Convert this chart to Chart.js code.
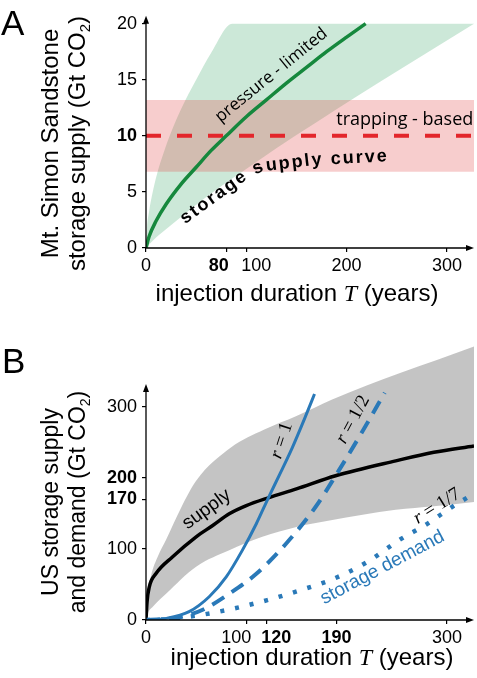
<!DOCTYPE html>
<html>
<head>
<meta charset="utf-8">
<script src="https://cdn.jsdelivr.net/npm/chart.js@4.4.0/dist/chart.umd.min.js"></script>
<style>
  html, body { margin: 0; padding: 0; background: #fff; }
  #wrapA { position: absolute; left: 0; top: 0; width: 477px; height: 310px; }
  #wrapB { position: absolute; left: 0; top: 320px; width: 477px; height: 358px; }
</style>
</head>
<body>
<div id="wrapA"><canvas id="chartA"></canvas></div>
<div id="wrapB"><canvas id="chartB"></canvas></div>
<script>
// ---- Panel A : Mt. Simon Sandstone ----
const xTicksA = [0, 80, 100, 200, 300];
const yTicksA = [0, 5, 10, 15, 20];
const boldTicksA = [80, 10];

// pressure-limited supply curve (years, Gt CO2)
const pressureT = [0, 3, 10, 20, 35, 50, 65, 80, 100, 120, 140, 160, 180, 200, 219];
const pressureS = [0, 1.0, 2.4, 3.9, 5.7, 7.2, 8.7, 10, 11.7, 13.2, 14.7, 16.1, 17.5, 18.8, 20];
// uncertainty band round it
const pressHighT = [0, 1, 3, 6, 11, 18, 24, 35, 50, 65, 86, 327];
const pressHighS = [0, 1.8, 3.2, 4.7, 6.6, 8.6, 10.1, 12.4, 15.0, 17.4, 20, 20];
const pressLowT = [0, 5, 12, 23, 45, 70, 96, 130, 170, 210, 260, 327];
const pressLowS = [0, 0.5, 1.1, 1.9, 3.5, 5.2, 6.8, 8.9, 11.2, 13.5, 16.3, 20];

// trapping-based limit
const trapT = [0, 327];
const trapMid = [10, 10];
const trapHigh = [13.2, 13.2];
const trapLow = [6.8, 6.8];

// ---- Panel B : US supply and demand ----
const xTicksB = [0, 100, 120, 190, 300];
const yTicksB = [0, 100, 170, 200, 300];
const boldTicksB = [120, 190, 170, 200];

const supplyT = [0, 1, 3.3, 10, 26.6, 50, 66.5, 83, 100, 122, 150, 189, 249, 287, 327];
const supplyS = [0, 25, 46.7, 65.4, 89, 117, 133, 149.5, 161, 172, 184.5, 203, 224, 236, 245];
const supHighT = [0, 1, 5, 12, 20, 35, 50, 85, 118, 150, 185, 220, 254, 290, 327];
const supHighS = [0, 30, 62, 90, 113, 158, 196, 243, 268, 287, 310, 330, 348, 366, 385];
const supLowT = [0, 2, 7, 20, 50, 83, 116, 150, 183, 216, 249, 287, 327];
const supLowS = [0, 10, 19, 37, 75, 98, 117, 131, 140, 148, 155, 160, 166];

// storage demand for r = 1, 1/2, 1/7
const demand1T = [0, 20, 43, 63, 80, 96, 110, 122, 134, 146, 158, 168];
const demand1S = [0, 2.3, 11.7, 32.7, 60.7, 98, 135.5, 172, 207, 243, 283, 318];
const demand2T = [0, 33, 56, 83, 110, 140, 169, 189, 216, 238];
const demand2S = [0, 3.7, 14, 37, 65, 108, 159, 203, 266, 320];
const demand7T = [0, 20, 54, 87, 121, 154, 187, 221, 253, 280, 306, 320];
const demand7S = [0, 1, 7, 16, 28, 42, 58, 82, 113, 135, 160, 172];

// baseline of the bent "storage supply curve" label, in data units
const curveLabelT = [38.9, 102.7, 115.6, 171.5, 247.3];
const curveLabelS = [2.11, 6.23, 6.84, 7.41, 7.76];

const SANS = '"Liberation Sans", Arial, Helvetica, sans-serif';
const SERIF = '"Liberation Serif", "Times New Roman", serif';
const HUMAN = '"Open Sans", sans-serif';

const GREEN = '#16883d';
const RED = '#e3262b';
const BLUE = '#2a79b8';

function pts(xs, ys) {
  return xs.map((x, i) => ({ x: x, y: ys[i] }));
}

// tick labels that sit too close are nudged with non-breaking spaces
function nudge(shifts) {
  return v => {
    const n = shifts[v] || 0;
    const pad = '\u00a0'.repeat(Math.abs(n));
    return n < 0 ? v + pad : pad + v;
  };
}

function tickFont(bold) {
  return c => ({ family: SANS, size: 18, weight: (c.tick && bold.includes(c.tick.value)) ? 'bold' : 'normal' });
}

// draws a run of differently styled pieces, centred (or left aligned) on x,y
function drawRich(ctx, parts, x, y, angle, align, baseline) {
  ctx.save();
  ctx.translate(x, y);
  ctx.rotate(angle * Math.PI / 180);
  ctx.textAlign = 'left';
  ctx.textBaseline = baseline || 'alphabetic';
  let total = 0;
  parts.forEach(p => { ctx.font = p.f; p.w = ctx.measureText(p.t).width; total += p.w; });
  let cx = align === 'left' ? 0 : -total / 2;
  parts.forEach(p => {
    ctx.font = p.f;
    ctx.fillText(p.t, cx, p.dy || 0);
    cx += p.w;
  });
  ctx.restore();
}

// text laid along a polyline, each letter turned to the local direction
function textOnPath(ctx, text, P, font, spacing) {
  const L = [0];
  for (let i = 1; i < P.length; i++) L.push(L[i - 1] + Math.hypot(P[i][0] - P[i - 1][0], P[i][1] - P[i - 1][1]));
  const at = s => {
    let i = 1;
    while (i < P.length - 1 && L[i] < s) i++;
    const f = (s - L[i - 1]) / (L[i] - L[i - 1]);
    return [P[i - 1][0] + f * (P[i][0] - P[i - 1][0]), P[i - 1][1] + f * (P[i][1] - P[i - 1][1])];
  };
  ctx.save();
  ctx.font = font;
  ctx.textAlign = 'center';
  ctx.textBaseline = 'alphabetic';
  let s = 0;
  for (const ch of text) {
    const w = ctx.measureText(ch).width;
    const a = at(s), b = at(s + w), m = at(s + w / 2);
    ctx.save();
    ctx.translate(m[0], m[1]);
    ctx.rotate(Math.atan2(b[1] - a[1], b[0] - a[0]));
    ctx.fillText(ch, 0, 0);
    ctx.restore();
    s += w + spacing;
  }
  ctx.restore();
}

function drawAxes(chart, yTopValue) {
  const { ctx, chartArea: a, scales: { x, y } } = chart;
  const x0 = x.getPixelForValue(0), y0 = y.getPixelForValue(0);
  const yTop = y.getPixelForValue(yTopValue);
  ctx.save();
  ctx.strokeStyle = '#000';
  ctx.fillStyle = '#000';
  ctx.lineWidth = 1.3;
  ctx.beginPath();
  ctx.moveTo(x0, y0); ctx.lineTo(x0, yTop + 5);
  ctx.moveTo(x0, y0); ctx.lineTo(a.right - 5, y0);
  ctx.stroke();
  ctx.beginPath();
  ctx.moveTo(x0, yTop); ctx.lineTo(x0 - 3, yTop + 8); ctx.lineTo(x0 + 3, yTop + 8);
  ctx.closePath(); ctx.fill();
  ctx.beginPath();
  ctx.moveTo(a.right, y0); ctx.lineTo(a.right - 8, y0 - 3); ctx.lineTo(a.right - 8, y0 + 3);
  ctx.closePath(); ctx.fill();
  ctx.restore();
}

function xTitle(ctx, cx, baseY) {
  drawRich(ctx, [
    { t: 'injection duration ', f: '24px ' + SANS },
    { t: 'T', f: 'italic 24px ' + SERIF },
    { t: ' (years)', f: '24px ' + SANS }
  ], cx, baseY, 0);
}

function yTitle(ctx, line1, line2, x1, x2, cy, size) {
  drawRich(ctx, [{ t: line1, f: size + 'px ' + SANS }], x1, cy, -90);
  drawRich(ctx, [
    { t: line2, f: size + 'px ' + SANS },
    { t: '2', f: Math.round(size * 0.63) + 'px ' + SANS, dy: 5 },
    { t: ')', f: size + 'px ' + SANS }
  ], x2, cy, -90);
}

function lineSet(data, color, width, dash, order) {
  return {
    data: data, borderColor: color, borderWidth: width, borderDash: dash || [],
    pointRadius: 0, fill: false, cubicInterpolationMode: 'monotone', order: order
  };
}

function bandSet(data, color, order, fill) {
  return {
    data: data, borderWidth: 0, borderColor: 'rgba(0,0,0,0)', backgroundColor: color,
    pointRadius: 0, fill: fill, cubicInterpolationMode: 'monotone', order: order
  };
}

function axisOpts(ticksList, bold, shifts, pad, afterFit, min, max) {
  return {
    type: 'linear', min: min, max: max,
    afterBuildTicks: s => { s.ticks = ticksList.map(v => ({ value: v })); },
    afterFit: afterFit,
    ticks: { autoSkip: false, maxRotation: 0, padding: pad, color: '#000', font: tickFont(bold), callback: nudge(shifts) },
    grid: { display: true, drawOnChartArea: false, drawTicks: true, tickLength: 4, color: '#000', lineWidth: 1.2 },
    border: { display: false }
  };
}

// ---- chart A ----
const annotA = {
  id: 'annotA',
  afterDraw(chart) {
    const { ctx, scales: { x, y } } = chart;
    drawAxes(chart, 20.7);
    ctx.save();
    ctx.fillStyle = '#000';
    drawRich(ctx, [{ t: 'A', f: '35px ' + SANS }], 1, 35, 0, 'left');
    xTitle(ctx, 297, 301);
    yTitle(ctx, 'Mt. Simon Sandstone', 'storage supply (Gt CO', 58, 85, 143.5, 24);
    drawRich(ctx, [{ t: 'pressure - limited', f: '17px ' + HUMAN }], x.getPixelForValue(125), y.getPixelForValue(15.4), -39, 'center', 'middle');
    drawRich(ctx, [{ t: 'trapping - based', f: '18px ' + HUMAN }], x.getPixelForValue(258), y.getPixelForValue(11.4), 0, 'center', 'middle');
    const path = curveLabelT.map((t, i) => [x.getPixelForValue(t), y.getPixelForValue(curveLabelS[i])]);
    textOnPath(ctx, 'storage supply curve', path, 'bold 18px ' + SANS, 2);
    ctx.restore();
  }
};

new Chart(document.getElementById('chartA'), {
  type: 'line',
  data: {
    datasets: [
      bandSet(pts(pressHighT, pressHighS), 'rgba(0,140,60,0.2)', 6, '+1'),
      bandSet(pts(pressLowT, pressLowS), 'rgba(0,0,0,0)', 7, false),
      bandSet(pts(trapT, trapHigh), 'rgba(225,70,70,0.27)', 4, '+1'),
      bandSet(pts(trapT, trapLow), 'rgba(0,0,0,0)', 5, false),
      lineSet(pts(trapT, trapMid), RED, 4, [15, 16], 2),
      lineSet(pts(pressureT, pressureS), GREEN, 3.5, [], 1)
    ]
  },
  options: {
    responsive: true,
    maintainAspectRatio: false,
    animation: false,
    layout: { padding: { left: 0, right: 3, top: 12, bottom: 0 } },
    scales: {
      x: axisOpts(xTicksA, boldTicksA, { 80: -3, 100: 4 }, 3, s => { s.height = 62; }, 0, 327),
      y: axisOpts(yTicksA, boldTicksA, {}, 5, s => { s.width = 146; }, 0, 20.7)
    },
    plugins: { legend: { display: false }, tooltip: { enabled: false } }
  },
  plugins: [annotA]
});

// ---- chart B ----
const annotB = {
  id: 'annotB',
  afterDraw(chart) {
    const { ctx, scales: { x, y } } = chart;
    drawAxes(chart, 332);
    ctx.save();
    ctx.fillStyle = '#000';
    drawRich(ctx, [{ t: 'B', f: '35px ' + SANS }], 2, 53, 0, 'left');
    xTitle(ctx, 312, 345);
    yTitle(ctx, 'US storage supply', 'and demand (Gt CO', 58, 85, 182, 23);
    drawRich(ctx, [{ t: 'supply', f: '19px ' + SANS }], x.getPixelForValue(60.5), y.getPixelForValue(155.8), -36, 'center', 'middle');
    const rLabel = (rest, tx, ty, ang) => drawRich(ctx, [
      { t: 'r', f: 'italic 19px ' + SERIF },
      { t: rest, f: '19px ' + SERIF }
    ], x.getPixelForValue(tx), y.getPixelForValue(ty), ang, 'center', 'middle');
    rLabel(' = 1', 135.3, 252.6, -72);
    rLabel(' = 1/2', 206.4, 282.1, -62);
    rLabel(' = 1/7', 290.1, 160, -32);
    ctx.fillStyle = BLUE;
    drawRich(ctx, [{ t: 'storage demand', f: '19px ' + SANS }], x.getPixelForValue(235.8), y.getPixelForValue(73.7), -28, 'center', 'middle');
    ctx.restore();
  }
};

new Chart(document.getElementById('chartB'), {
  type: 'line',
  data: {
    datasets: [
      bandSet(pts(supHighT, supHighS), 'rgba(160,160,160,0.62)', 6, '+1'),
      bandSet(pts(supLowT, supLowS), 'rgba(0,0,0,0)', 7, false),
      lineSet(pts(supplyT, supplyS), '#000', 3.5, [], 4),
      lineSet(pts(demand7T, demand7S), BLUE, 4.5, [4, 11], 3),
      lineSet(pts(demand2T, demand2S), BLUE, 4, [14, 9], 2),
      lineSet(pts(demand1T, demand1S), BLUE, 3, [], 1)
    ]
  },
  options: {
    responsive: true,
    maintainAspectRatio: false,
    animation: false,
    layout: { padding: { left: 0, right: 3, top: 15, bottom: 0 } },
    scales: {
      x: axisOpts(xTicksB, boldTicksB, { 100: -4, 120: 4 }, 3, s => { s.height = 58; }, 0, 327),
      y: axisOpts(yTicksB, boldTicksB, {}, 5, s => { s.width = 146; }, 0, 400)
    },
    plugins: { legend: { display: false }, tooltip: { enabled: false } }
  },
  plugins: [annotB]
});
</script>
</body>
</html>
